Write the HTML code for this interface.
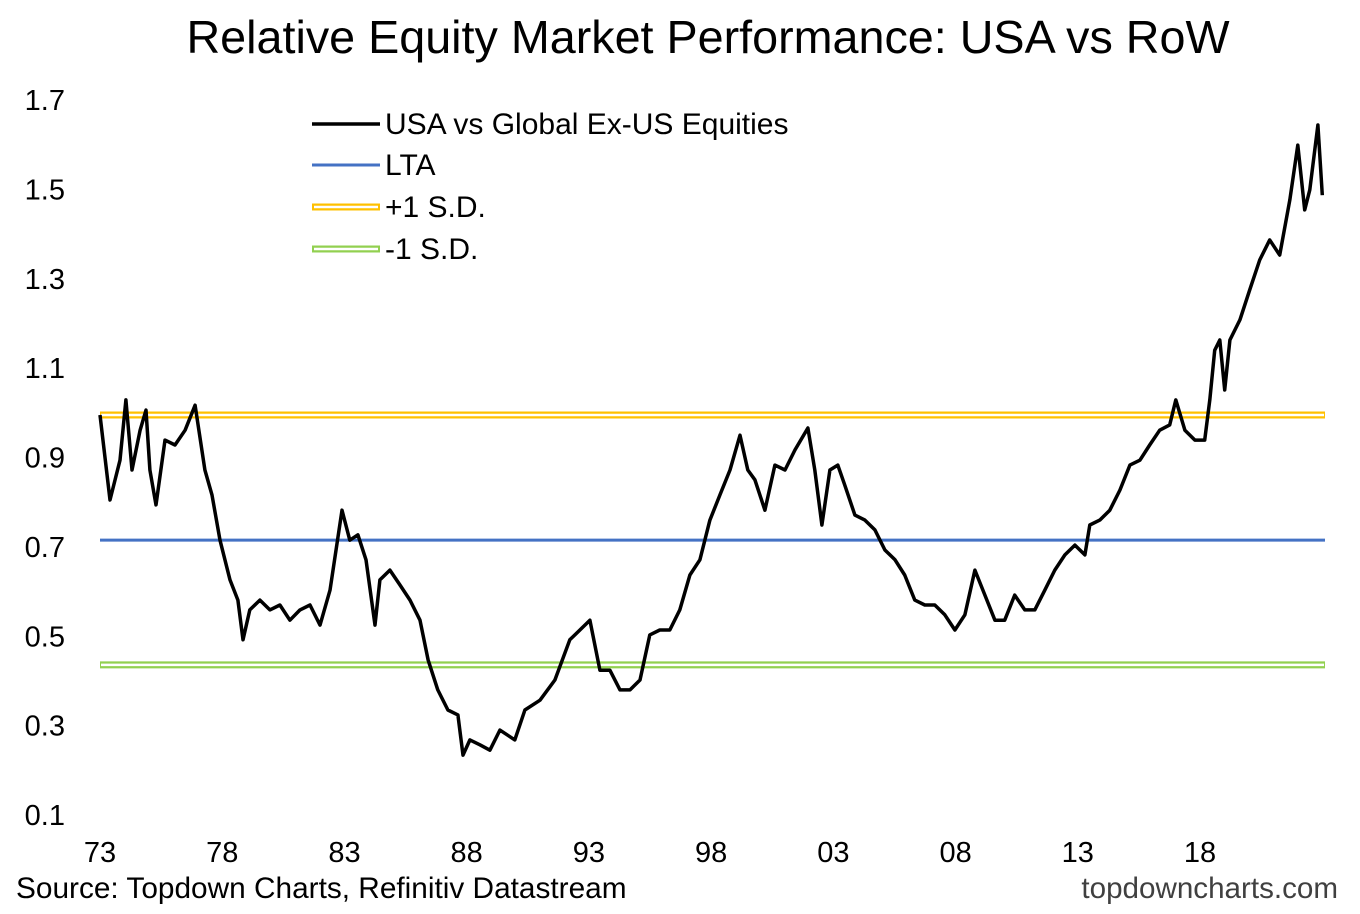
<!DOCTYPE html>
<html><head><meta charset="utf-8"><style>
html,body{margin:0;padding:0;background:#fff;}
svg{display:block;font-family:"Liberation Sans",Arial,sans-serif;}
</style></head><body>
<svg id="chart" width="1360" height="914" viewBox="0 0 1360 914">
<text x="708" y="53" font-size="46.7" text-anchor="middle" fill="#000">Relative Equity Market Performance: USA vs RoW</text>
<g id="yaxis"></g>
<g id="xaxis"></g>
<g id="refs"></g>
<g id="series"></g>
<g>
 <g><line x1="312" y1="124" x2="380" y2="124" stroke="#000" stroke-width="3.5"/><text x="385" y="134" font-size="30">USA vs Global Ex-US Equities</text></g>
 <g><line x1="312" y1="165" x2="380" y2="165" stroke="#4472c4" stroke-width="3"/><text x="385" y="175" font-size="30">LTA</text></g>
 <g><line x1="312" y1="207" x2="380" y2="207" stroke="#ffc000" stroke-width="7"/><line x1="314" y1="207" x2="378" y2="207" stroke="#fff" stroke-width="2.5"/><text x="385" y="217" font-size="30">+1 S.D.</text></g>
 <g><line x1="312" y1="249" x2="380" y2="249" stroke="#92d050" stroke-width="7"/><line x1="314" y1="249" x2="378" y2="249" stroke="#fff" stroke-width="2.5"/><text x="385" y="259" font-size="30">-1 S.D.</text></g>
</g>
<text x="16" y="898" font-size="29.8">Source: Topdown Charts, Refinitiv Datastream</text>
<text x="1338" y="898" font-size="29.6" text-anchor="end" fill="#404040">topdowncharts.com</text>
</svg>
<script>
// years since 1973
const yearOffsets=[0,0.41,0.82,1.06,1.31,1.64,1.88,2.04,2.29,2.66,3.07,3.48,3.89,4.29,4.58,4.91,5.32,5.64,5.85,6.13,6.54,6.95,7.36,7.77,8.18,8.59,9.0,9.41,9.90,10.22,10.55,10.88,11.25,11.45,11.86,12.27,12.68,13.09,13.42,13.82,14.23,14.64,14.85,15.13,15.54,15.95,16.36,16.97,17.38,18.0,18.61,19.22,19.63,20.04,20.45,20.86,21.27,21.68,22.09,22.49,22.90,23.31,23.72,24.13,24.54,24.95,25.36,25.77,26.18,26.50,26.79,27.20,27.61,28.02,28.43,28.96,29.24,29.53,29.86,30.18,30.47,30.88,31.29,31.70,32.11,32.52,32.92,33.33,33.74,34.15,34.56,34.97,35.38,35.79,36.20,36.61,37.01,37.42,37.83,38.24,38.65,39.06,39.47,39.88,40.29,40.49,40.90,41.31,41.72,42.13,42.54,42.94,43.35,43.76,44.01,44.38,44.79,45.19,45.40,45.60,45.81,46.01,46.22,46.63,47.03,47.44,47.85,48.26,48.67,49.00,49.28,49.49,49.82,50.0];
const relValues=[0.995,0.805,0.894,1.029,0.872,0.961,1.006,0.872,0.794,0.939,0.928,0.961,1.017,0.872,0.816,0.715,0.626,0.581,0.492,0.559,0.581,0.559,0.570,0.536,0.559,0.570,0.525,0.603,0.782,0.715,0.727,0.671,0.525,0.626,0.648,0.615,0.581,0.536,0.447,0.380,0.335,0.324,0.234,0.268,0.257,0.245,0.290,0.268,0.335,0.357,0.402,0.492,0.514,0.536,0.424,0.424,0.380,0.380,0.402,0.503,0.514,0.514,0.559,0.637,0.671,0.760,0.816,0.872,0.950,0.872,0.850,0.782,0.883,0.872,0.917,0.966,0.872,0.749,0.872,0.883,0.838,0.771,0.760,0.738,0.693,0.671,0.637,0.581,0.570,0.570,0.548,0.514,0.548,0.648,0.592,0.536,0.536,0.592,0.559,0.559,0.603,0.648,0.682,0.704,0.682,0.749,0.760,0.782,0.827,0.883,0.894,0.928,0.961,0.973,1.029,0.961,0.939,0.939,1.029,1.140,1.163,1.051,1.163,1.208,1.275,1.342,1.387,1.353,1.476,1.599,1.454,1.499,1.644,1.487];
const ltaValue=0.715, plusSD=0.995, minusSD=0.436;
const yTicks=[0.1,0.3,0.5,0.7,0.9,1.1,1.3,1.5,1.7];
const xTickLabels=["73","78","83","88","93","98","03","08","13","18"];
const xTickOffsets=[0,5,10,15,20,25,30,35,40,45];

const X0=100,X1=1323,Y0=815,Y1=100;
const xs=t=>X0+t*(X1-X0)/50.03;
const ys=v=>Y0-(v-0.1)*(Y0-Y1)/1.6;
const NS="http://www.w3.org/2000/svg";
function mk(tag,attrs,parent){const e=document.createElementNS(NS,tag);for(const k in attrs)e.setAttribute(k,attrs[k]);parent.appendChild(e);return e;}
const ya=document.getElementById('yaxis');
yTicks.forEach(v=>{
 const t=mk('text',{x:65,y:ys(v)+10,'font-size':29,'text-anchor':'end',fill:'#000'},ya);
 t.textContent=v.toFixed(1);
 
 
});
const xa=document.getElementById('xaxis');
xTickLabels.forEach((l,i)=>{
 const t=mk('text',{x:xs(xTickOffsets[i]),y:862,'font-size':29,'text-anchor':'middle',fill:'#000'},xa);
 t.textContent=l;
 
 
});
const rf=document.getElementById('refs');
[[plusSD,'#ffc000','plus-sd-line'],[minusSD,'#92d050','minus-sd-line']].forEach(([v,c,n])=>{
 const g=mk('g',{},rf);
 
 
 mk('line',{x1:X0,x2:X1+2,y1:ys(v),y2:ys(v),stroke:c,'stroke-width':7},g);
 mk('line',{x1:X0+1,x2:X1+1,y1:ys(v),y2:ys(v),stroke:'#fff','stroke-width':2.5},g);
});
const lta=mk('line',{x1:X0,x2:X1+2,y1:ys(ltaValue),y2:ys(ltaValue),stroke:'#4472c4','stroke-width':3},rf);


const sr=document.getElementById('series');
const d=yearOffsets.map((t,i)=>(i?'L':'M')+xs(t).toFixed(1)+','+ys(relValues[i]).toFixed(1)).join(' ');
const p=mk('path',{d:d,fill:'none',stroke:'#000','stroke-width':3.5,'stroke-linejoin':'round'},sr);


</script>
</body></html>
